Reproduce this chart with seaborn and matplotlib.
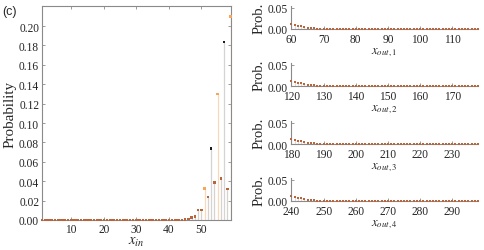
import numpy as np
import pandas as pd
import matplotlib
matplotlib.use("Agg")
import matplotlib.pyplot as plt
import seaborn as sns

# ---------------- data ----------------
x_in = list(range(1, 60))
p_in_tail = [0.0005, 0.001, 0.0025, 0.0035, 0.0103, 0.0103, 0.0323, 0.0237,
             0.074, 0.0385, 0.130, 0.043, 0.1835, 0.032, 0.210]   # x = 45..59
p_in = [0.0] * 44 + p_in_tail
group_in_tail = ["mid", "mid", "mid", "mid", "mid", "mid", "light", "mid",
                 "dark", "mid", "light", "mid", "dark", "mid", "light"]
group_in = ["mid"] * 44 + group_in_tail

out_starts = [60, 120, 180, 240]
p_out_head = [0.012, 0.010, 0.008, 0.006, 0.0045, 0.003, 0.002, 0.0012, 0.0006]
p_out = p_out_head + [0.0] * (59 - len(p_out_head))
out_ticks = [[60, 70, 80, 90, 100, 110],
             [120, 130, 140, 150, 160, 170],
             [180, 190, 200, 210, 220, 230],
             [240, 250, 260, 270, 280, 290]]
out_labels = [r"$x_{out,1}$", r"$x_{out,2}$", r"$x_{out,3}$", r"$x_{out,4}$"]

# ---------------- style ----------------
sns.set_style("ticks")
plt.rcParams["font.family"] = ["Liberation Serif", "DejaVu Serif"]
plt.rcParams["mathtext.fontset"] = "stix"

marker_colors = {"dark": "#1c1c1c", "light": "#f6a55a", "mid": "#b8643c"}
stem_colors = {"dark": "#d4d4d4", "light": "#f8d9bb", "mid": "#d8d2ce"}
spine_col = "#8a8a8a"

fig = plt.figure(figsize=(4.84, 2.51), dpi=100)

# ---------------- left panel ----------------
axL = fig.add_axes([42 / 484, 1 - 221 / 251, 189 / 484, 214 / 251])
df_in = pd.DataFrame({"x": x_in, "p": p_in, "g": group_in})
for g, sub in df_in.groupby("g"):
    axL.vlines(sub["x"], 0, sub["p"], colors=stem_colors[g], lw=0.9, zorder=1)
sns.scatterplot(data=df_in, x="x", y="p", hue="g", palette=marker_colors,
                marker="s", s=3.5, linewidth=0, legend=False, ax=axL, zorder=3,
                clip_on=False)
axL.set_xlim(1, 59.1)
axL.set_ylim(0, 0.2207)
axL.set_xticks([10, 20, 30, 40, 50])
axL.set_yticks(np.arange(0, 0.201, 0.02))
axL.set_yticklabels([f"{v:.2f}" for v in np.arange(0, 0.201, 0.02)])
axL.tick_params(direction="in", length=2.5, width=0.6, color=spine_col,
                labelsize=8.3, top=True, right=True, pad=2)
for s in axL.spines.values():
    s.set_color(spine_col)
    s.set_linewidth(0.8)
axL.set_xlabel(r"$x_{in}$", fontsize=10.5, labelpad=0)
axL.set_ylabel("Probability", fontsize=10.8, labelpad=2)

fig.text(0.004, 0.975, "(c)", fontsize=9, family="Liberation Sans", va="top")

# ---------------- right panels ----------------
bottoms = [30, 87, 145, 202]
for i, start in enumerate(out_starts):
    ax = fig.add_axes([291 / 484, 1 - bottoms[i] / 251, 187 / 484, 23 / 251])
    xs = list(range(start, start + 59))
    df = pd.DataFrame({"x": xs, "p": p_out})
    ax.vlines(df["x"], 0, df["p"], colors="#e6d8cf", lw=0.8, zorder=1)
    sns.scatterplot(data=df, x="x", y="p", color=marker_colors["mid"],
                    marker="s", s=3, linewidth=0, legend=False, ax=ax,
                    zorder=3, clip_on=False)
    ax.set_xlim(start - 0.15, start + 58)
    ax.set_ylim(0, 0.054)
    ax.set_xticks(out_ticks[i])
    ax.set_yticks([0.0, 0.05])
    ax.set_yticklabels(["0.00", "0.05"])
    ax.tick_params(direction="in", length=2, width=0.6, color=spine_col,
                   labelsize=8.3, pad=2)
    ax.tick_params(axis="x", pad=3)
    sns.despine(ax=ax, top=True, right=True)
    for s in ["left", "bottom"]:
        ax.spines[s].set_color(spine_col)
        ax.spines[s].set_linewidth(0.8)
    ax.set_xlabel(out_labels[i], fontsize=9, labelpad=0)
    ax.set_ylabel("Prob.", fontsize=10.5, labelpad=2)

fig.savefig("out.png", dpi=100)
